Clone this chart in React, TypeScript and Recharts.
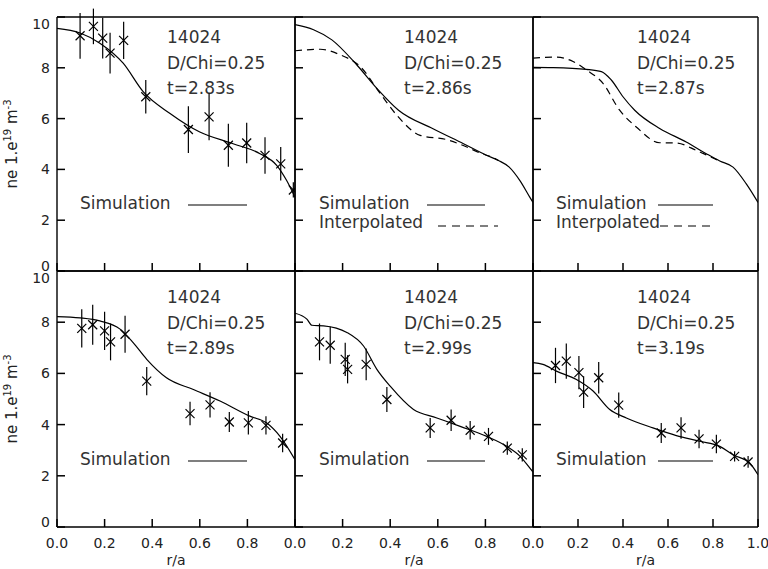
import React from 'react'
import {
  ComposedChart,
  Line,
  Scatter,
  ErrorBar,
  XAxis,
  YAxis,
  ReferenceLine,
} from 'recharts'

type Pt = { r: number; v: number }
type Meas = { r: number; v: number; err: number }

const SHOT = '14024'
const DCHI = 'D/Chi=0.25'
const TIMES = ['2.83', '2.86', '2.87', '2.89', '2.99', '3.19']

const X_MAJOR = [0, 0.2, 0.4, 0.6, 0.8, 1]
const X_MINOR = [
  0.05, 0.1, 0.15, 0.25, 0.3, 0.35, 0.45, 0.5, 0.55, 0.65, 0.7, 0.75, 0.85, 0.9, 0.95,
]
const Y_MAJOR = [0, 2, 4, 6, 8, 10]
const Y_MINOR = [0.5, 1, 1.5, 2.5, 3, 3.5, 4.5, 5, 5.5, 6.5, 7, 7.5, 8.5, 9, 9.5]

// simulation profiles (solid)
const SIM_283: Pt[] = [
  { r: 0, v: 9.55 }, { r: 0.097, v: 9.37 }, { r: 0.18, v: 8.97 }, { r: 0.278, v: 8.18 },
  { r: 0.362, v: 7.06 }, { r: 0.475, v: 6.2 }, { r: 0.6, v: 5.47 }, { r: 0.74, v: 5.01 },
  { r: 0.853, v: 4.62 }, { r: 0.923, v: 4.16 }, { r: 0.965, v: 3.56 }, { r: 1, v: 2.9 },
]
const SIM_286: Pt[] = [
  { r: 0, v: 9.7 }, { r: 0.078, v: 9.5 }, { r: 0.155, v: 9.1 }, { r: 0.26, v: 8.11 },
  { r: 0.344, v: 7.19 }, { r: 0.435, v: 6.33 }, { r: 0.58, v: 5.6 }, { r: 0.708, v: 5.01 },
  { r: 0.806, v: 4.55 }, { r: 0.855, v: 4.35 }, { r: 0.9, v: 4.09 }, { r: 0.945, v: 3.56 },
  { r: 0.987, v: 2.9 }, { r: 1, v: 2.7 },
]
const SIM_287: Pt[] = [
  { r: 0, v: 8.02 }, { r: 0.089, v: 8.01 }, { r: 0.237, v: 7.94 }, { r: 0.304, v: 7.85 },
  { r: 0.348, v: 7.52 }, { r: 0.4, v: 6.86 }, { r: 0.452, v: 6.33 }, { r: 0.563, v: 5.61 },
  { r: 0.681, v: 5.08 }, { r: 0.77, v: 4.62 }, { r: 0.83, v: 4.33 }, { r: 0.889, v: 4.09 },
  { r: 0.948, v: 3.43 }, { r: 1, v: 2.7 },
]
const SIM_289: Pt[] = [
  { r: 0, v: 8.22 }, { r: 0.097, v: 8.17 }, { r: 0.18, v: 8.05 }, { r: 0.265, v: 7.73 },
  { r: 0.32, v: 7.2 }, { r: 0.377, v: 6.55 }, { r: 0.46, v: 5.83 }, { r: 0.573, v: 5.37 },
  { r: 0.685, v: 4.92 }, { r: 0.81, v: 4.33 }, { r: 0.88, v: 4.07 }, { r: 0.937, v: 3.54 },
  { r: 1, v: 2.63 },
]
const SIM_299: Pt[] = [
  { r: 0, v: 8.35 }, { r: 0.05, v: 8.12 }, { r: 0.071, v: 7.88 }, { r: 0.12, v: 7.86 },
  { r: 0.218, v: 7.6 }, { r: 0.288, v: 7.07 }, { r: 0.344, v: 6.16 }, { r: 0.4, v: 5.5 },
  { r: 0.498, v: 4.59 }, { r: 0.596, v: 4.26 }, { r: 0.694, v: 3.93 }, { r: 0.806, v: 3.54 },
  { r: 0.89, v: 3.15 }, { r: 0.946, v: 2.76 }, { r: 0.987, v: 2.3 }, { r: 1, v: 2.15 },
]
const SIM_319: Pt[] = [
  { r: 0, v: 6.42 }, { r: 0.044, v: 6.35 }, { r: 0.104, v: 6.09 }, { r: 0.193, v: 5.76 },
  { r: 0.267, v: 5.31 }, { r: 0.341, v: 4.59 }, { r: 0.415, v: 4.26 }, { r: 0.533, v: 3.87 },
  { r: 0.637, v: 3.57 }, { r: 0.741, v: 3.35 }, { r: 0.83, v: 3.15 }, { r: 0.889, v: 2.82 },
  { r: 0.963, v: 2.5 }, { r: 1, v: 2.04 },
]

// interpolated profiles (dashed)
const INTERP_286: Pt[] = [
  { r: 0, v: 8.67 }, { r: 0.106, v: 8.73 }, { r: 0.19, v: 8.51 }, { r: 0.274, v: 8.05 },
  { r: 0.358, v: 6.99 }, { r: 0.428, v: 6.13 }, { r: 0.526, v: 5.34 }, { r: 0.638, v: 5.17 },
  { r: 0.722, v: 4.88 }, { r: 0.778, v: 4.64 }, { r: 0.834, v: 4.46 }, { r: 0.855, v: 4.35 },
]
const INTERP_287: Pt[] = [
  { r: 0, v: 8.38 }, { r: 0.104, v: 8.42 }, { r: 0.178, v: 8.25 }, { r: 0.237, v: 7.92 },
  { r: 0.311, v: 7.39 }, { r: 0.385, v: 6.33 }, { r: 0.459, v: 5.67 }, { r: 0.563, v: 5.05 },
  { r: 0.637, v: 5.04 }, { r: 0.726, v: 4.75 }, { r: 0.785, v: 4.51 }, { r: 0.83, v: 4.33 },
]

// measured points with error bars
const MEAS_283: Meas[] = [
  { r: 0.097, v: 9.26, err: 0.9 }, { r: 0.153, v: 9.63, err: 0.7 }, { r: 0.192, v: 9.17, err: 0.8 },
  { r: 0.223, v: 8.58, err: 0.8 }, { r: 0.28, v: 9.08, err: 0.73 }, { r: 0.373, v: 6.86, err: 0.66 },
  { r: 0.552, v: 5.57, err: 0.92 }, { r: 0.639, v: 6.07, err: 0.92 }, { r: 0.72, v: 4.95, err: 0.85 },
  { r: 0.797, v: 5.04, err: 0.8 }, { r: 0.874, v: 4.55, err: 0.72 }, { r: 0.94, v: 4.22, err: 0.66 },
  { r: 0.993, v: 3.19, err: 0.3 },
]
const MEAS_289: Meas[] = [
  { r: 0.104, v: 7.76, err: 0.75 }, { r: 0.15, v: 7.9, err: 0.78 }, { r: 0.2, v: 7.66, err: 0.75 },
  { r: 0.225, v: 7.23, err: 0.72 }, { r: 0.286, v: 7.53, err: 0.72 }, { r: 0.377, v: 5.7, err: 0.55 },
  { r: 0.559, v: 4.43, err: 0.46 }, { r: 0.643, v: 4.77, err: 0.49 }, { r: 0.724, v: 4.1, err: 0.39 },
  { r: 0.804, v: 4.07, err: 0.46 }, { r: 0.878, v: 3.97, err: 0.36 }, { r: 0.948, v: 3.28, err: 0.36 },
]
const MEAS_299: Meas[] = [
  { r: 0.103, v: 7.23, err: 0.72 }, { r: 0.148, v: 7.1, err: 0.72 }, { r: 0.211, v: 6.55, err: 0.65 },
  { r: 0.221, v: 6.16, err: 0.55 }, { r: 0.299, v: 6.35, err: 0.62 }, { r: 0.386, v: 4.98, err: 0.49 },
  { r: 0.568, v: 3.87, err: 0.39 }, { r: 0.656, v: 4.17, err: 0.42 }, { r: 0.736, v: 3.78, err: 0.36 },
  { r: 0.813, v: 3.54, err: 0.33 }, { r: 0.892, v: 3.08, err: 0.26 }, { r: 0.955, v: 2.82, err: 0.26 },
]
const MEAS_319: Meas[] = [
  { r: 0.1, v: 6.31, err: 0.69 }, { r: 0.148, v: 6.48, err: 0.69 }, { r: 0.204, v: 6.03, err: 0.65 },
  { r: 0.225, v: 5.27, err: 0.62 }, { r: 0.292, v: 5.83, err: 0.62 }, { r: 0.381, v: 4.76, err: 0.49 },
  { r: 0.57, v: 3.67, err: 0.39 }, { r: 0.658, v: 3.87, err: 0.42 }, { r: 0.738, v: 3.44, err: 0.36 },
  { r: 0.815, v: 3.24, err: 0.36 }, { r: 0.896, v: 2.76, err: 0.2 }, { r: 0.956, v: 2.54, err: 0.23 },
]

const SIMS = [SIM_283, SIM_286, SIM_287, SIM_289, SIM_299, SIM_319]
const INTERPS = [null, INTERP_286, INTERP_287, null, null, null]
const MEASES = [MEAS_283, null, null, MEAS_289, MEAS_299, MEAS_319]

// layout (px)
const COLS = [
  { left: 57, w: 238, annotX: 110, legX: 23, leg: [131, 190], dash: [0, 0] },
  { left: 295, w: 238, annotX: 109, legX: 24, leg: [132, 190], dash: [143, 203] },
  { left: 533, w: 225, annotX: 104, legX: 23, leg: [125, 180], dash: [127, 180] },
]
const ROWS = [
  { top: 17, h: 254, annotY: 26, legY: 192, legLineY: 188 },
  { top: 271, h: 256, annotY: 32, legY: 194, legLineY: 190 },
]
// every side carries two 1px axes (major + minor ticks), so margins are 2px smaller
const PAD = { top: 14, right: 14, bottom: 42, left: 56 }
const M = { top: PAD.top - 2, right: PAD.right - 2, bottom: PAD.bottom - 2, left: PAD.left - 2 }
const FONT = "'DejaVu Sans', sans-serif"
const INK = '#222'
const NOTE_INK = '#333'
const MAJOR_LEN = -8
const MINOR_LEN = -5
const TICK_LINE = { stroke: '#000', strokeWidth: 1.5 }

const XMark = (props: any) => {
  const { cx, cy } = props
  if (cx == null || cy == null) return null
  const s = 4.5
  return (
    <g stroke="#000" strokeWidth={1.2}>
      <line x1={cx - s} y1={cy - s} x2={cx + s} y2={cy + s} />
      <line x1={cx - s} y1={cy + s} x2={cx + s} y2={cy - s} />
    </g>
  )
}

// labels only; tick marks come from the axes' own (inward) tick lines
function makeXLabel(show: boolean, lastLabel: boolean) {
  return (props: any) => {
    const { x, y, payload } = props
    const v = payload.value as number
    if (!show || (v >= 1 && !lastLabel)) return <g />
    return (
      <text x={x} y={y + 21} textAnchor="middle" fontSize={14} fontFamily={FONT} fill={INK}>
        {v.toFixed(1)}
      </text>
    )
  }
}

function makeYLabel(show: boolean) {
  return (props: any) => {
    const { x, y, payload } = props
    const v = payload.value as number
    if (!show) return <g />
    const dy = v === 0 ? -5 : v === 10 ? 7 : 0
    return (
      <text x={x - 7} y={y + dy + 5} textAnchor="end" fontSize={14} fontFamily={FONT} fill={INK}>
        {v}
      </text>
    )
  }
}

function Panel({ idx }: { idx: number }) {
  const col = COLS[idx % 3]
  const row = ROWS[Math.floor(idx / 3)]
  const isLeft = idx % 3 === 0
  const isRight = idx % 3 === 2
  const isBottom = idx >= 3
  const sim = SIMS[idx]
  const interp = INTERPS[idx]
  const meas = MEASES[idx]
  const W = col.w + PAD.left + PAD.right
  const H = row.h + PAD.top + PAD.bottom
  const tx = PAD.left + col.annotX
  const ty = PAD.top + row.annotY
  const lx = PAD.left + col.legX
  const ly = PAD.top + row.legY

  return (
    <div style={{ position: 'absolute', left: col.left - PAD.left, top: row.top - PAD.top }}>
      <ComposedChart width={W} height={H} margin={M}>
        <XAxis
          dataKey="r"
          type="number"
          domain={[0, 1]}
          ticks={X_MAJOR}
          interval={0}
          allowDataOverflow
          height={1}
          stroke="#000"
          tickSize={MAJOR_LEN}
          tickMargin={-MAJOR_LEN}
          tickLine={TICK_LINE}
          axisLine={{ stroke: '#000', strokeWidth: 1.4 }}
          tick={makeXLabel(isBottom, isRight)}
        />
        <XAxis
          xAxisId="xminor"
          type="number"
          domain={[0, 1]}
          ticks={X_MINOR}
          interval={0}
          allowDataOverflow
          height={1}
          stroke="#000"
          tickSize={MINOR_LEN - 1}
          tickLine={TICK_LINE}
          axisLine={false}
          tick={false}
        />
        <XAxis
          xAxisId="xtop"
          orientation="top"
          type="number"
          domain={[0, 1]}
          ticks={X_MAJOR}
          interval={0}
          allowDataOverflow
          height={1}
          stroke="#000"
          tickSize={MAJOR_LEN}
          tickLine={TICK_LINE}
          axisLine={false}
          tick={false}
        />
        <XAxis
          xAxisId="xtopminor"
          orientation="top"
          type="number"
          domain={[0, 1]}
          ticks={X_MINOR}
          interval={0}
          allowDataOverflow
          height={1}
          stroke="#000"
          tickSize={MINOR_LEN - 1}
          tickLine={TICK_LINE}
          axisLine={false}
          tick={false}
        />
        <YAxis
          type="number"
          domain={[0, 10]}
          ticks={Y_MAJOR}
          interval={0}
          allowDataOverflow
          width={1}
          stroke="#000"
          tickSize={MAJOR_LEN}
          tickMargin={-MAJOR_LEN}
          tickLine={TICK_LINE}
          axisLine={{ stroke: '#000', strokeWidth: 1.4 }}
          tick={makeYLabel(isLeft)}
        />
        <YAxis
          yAxisId="yminor"
          type="number"
          domain={[0, 10]}
          ticks={Y_MINOR}
          interval={0}
          allowDataOverflow
          width={1}
          stroke="#000"
          tickSize={MINOR_LEN - 1}
          tickLine={TICK_LINE}
          axisLine={false}
          tick={false}
        />
        <YAxis
          yAxisId="yright"
          orientation="right"
          type="number"
          domain={[0, 10]}
          ticks={Y_MAJOR}
          interval={0}
          allowDataOverflow
          width={1}
          stroke="#000"
          tickSize={MAJOR_LEN}
          tickLine={TICK_LINE}
          axisLine={false}
          tick={false}
        />
        <YAxis
          yAxisId="yrightminor"
          orientation="right"
          type="number"
          domain={[0, 10]}
          ticks={Y_MINOR}
          interval={0}
          allowDataOverflow
          width={1}
          stroke="#000"
          tickSize={MINOR_LEN - 1}
          tickLine={TICK_LINE}
          axisLine={false}
          tick={false}
        />
        <ReferenceLine y={10} stroke="#000" strokeWidth={1.4} />
        <ReferenceLine x={1} stroke="#000" strokeWidth={1.4} />
        <Line
          data={sim}
          dataKey="v"
          type="monotone"
          stroke="#000"
          strokeWidth={1.2}
          dot={false}
          isAnimationActive={false}
        />
        {interp && (
          <Line
            data={interp}
            dataKey="v"
            type="monotone"
            stroke="#000"
            strokeWidth={1.2}
            strokeDasharray="7 5"
            dot={false}
            isAnimationActive={false}
          />
        )}
        {meas && (
          <Scatter data={meas} dataKey="v" shape={XMark} isAnimationActive={false}>
            <ErrorBar
              dataKey="err"
              direction="y"
              width={0}
              stroke="#000"
              strokeWidth={1.2}
              isAnimationActive={false}
            />
          </Scatter>
        )}
        <g fontFamily={FONT} fontSize={17} fill={NOTE_INK}>
          <text x={tx} y={ty}>{SHOT}</text>
          <text x={tx} y={ty + 25.5}>{DCHI}</text>
          <text x={tx} y={ty + 51}>{`t=${TIMES[idx]}s`}</text>
          <text x={lx} y={ly}>Simulation</text>
          {interp && <text x={lx} y={ly + 19}>Interpolated</text>}
        </g>
        <line
          x1={PAD.left + col.leg[0]}
          x2={PAD.left + col.leg[1]}
          y1={PAD.top + row.legLineY}
          y2={PAD.top + row.legLineY}
          stroke="#000"
          strokeWidth={1.2}
        />
        {interp && (
          <line
            x1={PAD.left + col.dash[0]}
            x2={PAD.left + col.dash[1]}
            y1={PAD.top + row.legLineY + 21}
            y2={PAD.top + row.legLineY + 21}
            stroke="#000"
            strokeWidth={1.2}
            strokeDasharray="8 6"
          />
        )}
        {isLeft && (
          <text
            transform={`translate(${PAD.left - 40}, ${PAD.top + row.h / 2}) rotate(-90)`}
            textAnchor="middle"
            fontFamily={FONT}
            fontSize={15}
            fill={INK}
          >
            ne 1.e<tspan dy={-6} fontSize={10}>19</tspan>
            <tspan dy={6}> m</tspan>
            <tspan dy={-6} fontSize={10}>-3</tspan>
          </text>
        )}
        {isBottom && (
          <text
            x={PAD.left + col.w / 2}
            y={PAD.top + row.h + 38}
            textAnchor="middle"
            fontFamily={FONT}
            fontSize={14}
            fill={INK}
          >
            r/a
          </text>
        )}
      </ComposedChart>
    </div>
  )
}

export default function App() {
  return (
    <div
      style={{
        position: 'absolute',
        left: 0,
        top: 0,
        width: 768,
        height: 569,
        background: '#fff',
        overflow: 'hidden',
      }}
    >
      {[0, 1, 2, 3, 4, 5].map((i) => (
        <Panel key={i} idx={i} />
      ))}
    </div>
  )
}
